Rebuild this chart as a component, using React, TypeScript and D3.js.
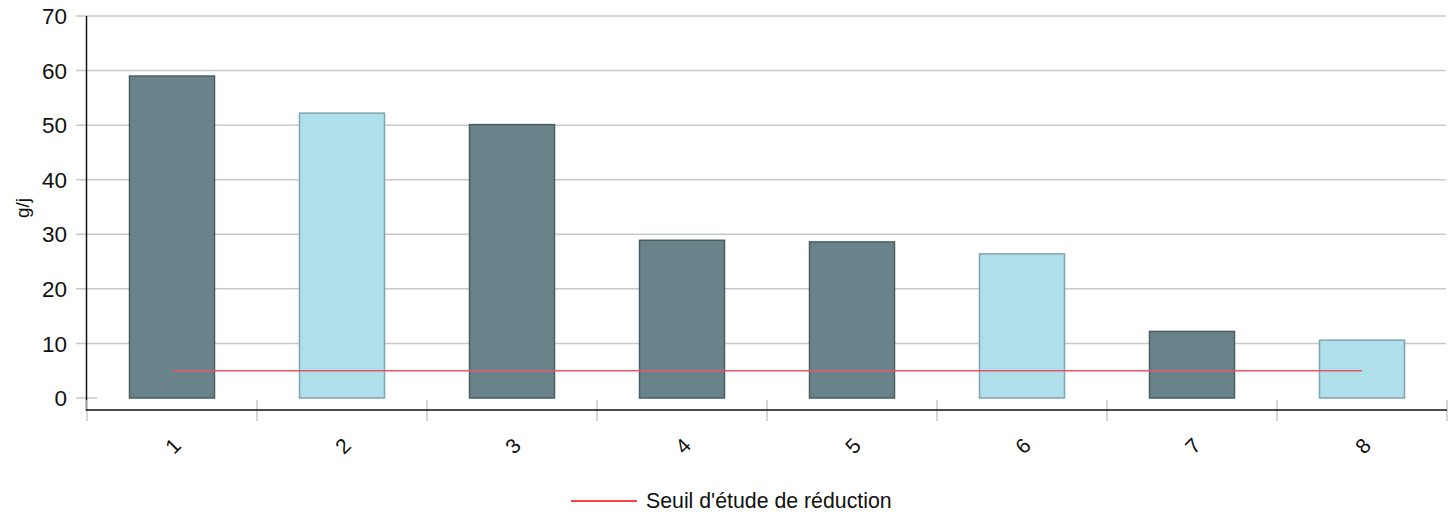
import React from "react";
import * as d3 from "d3";

const categories = ["1", "2", "3", "4", "5", "6", "7", "8"];
const values = [59, 52.2, 50.1, 28.9, 28.6, 26.4, 12.2, 10.6];
const highlight = [false, true, false, false, false, true, false, true];
const threshold = 5;
const yTicks = [0, 10, 20, 30, 40, 50, 60, 70];
const legendLabel = "Seuil d'étude de réduction";
const yLabel = "g/j";

export default function App() {
  const W = 1456, H = 515;
  const x0 = 87, x1 = 1447;
  const y = d3.scaleLinear().domain([0, 70]).range([398, 16]);
  const x = d3.scaleBand<string>().domain(categories).range([x0, x1]).paddingInner(0).paddingOuter(0);
  const bw = x.bandwidth();
  const barW = bw * 0.5;
  const font = "Liberation Sans, Arial, sans-serif";
  return (
    <svg width={W} height={H} style={{ position: "absolute", left: 0, top: 0 }} fontFamily={font}>
      {yTicks.map((t) =>
        <g key={t}>
          <line x1={76} x2={t === 0 ? 97 : 1446} y1={y(t)} y2={y(t)} stroke="#c8c8c8" strokeWidth={1.5} />
          <text x={67} y={y(t)} dy="0.36em" textAnchor="end" fontSize={22.5} fill="#111">{t}</text>
        </g>
      )}
      <line x1={x0 - 0.5} x2={x0 - 0.5} y1={16} y2={411} stroke="#111" strokeWidth={1.5} />
      {d3.range(categories.length + 1).map((i) => {
        const xx = x0 + i * bw;
        return <line key={i} x1={xx} x2={xx} y1={400} y2={421} stroke="#c8c8c8" strokeWidth={1.5} />;
      })}
      <line x1={x0 - 1} x2={x1} y1={410} y2={410} stroke="#111" strokeWidth={1.5} />
      {categories.map((c, i) => {
        const cx = (x(c) as number) + bw / 2;
        return (
          <rect key={c} x={cx - barW / 2} y={y(values[i])} width={barW} height={y(0) - y(values[i])}
            fill={highlight[i] ? "#b0dfec" : "#6a8289"} stroke={highlight[i] ? "#7fa3b0" : "#4a5d63"} strokeWidth={1.5} />
        );
      })}
      <line x1={(x(categories[0]) as number) + bw / 2} x2={(x(categories[categories.length - 1]) as number) + bw / 2}
        y1={y(threshold)} y2={y(threshold)} stroke="#e8546a" strokeWidth={1.5} />
      {categories.map((c) => {
        const cx = (x(c) as number) + bw / 2;
        return (
          <text key={c} transform={`translate(${cx + 1},${446}) rotate(-45)`} textAnchor="middle" dy="0.35em" fontSize={21} fill="#111">{c}</text>
        );
      })}
      <text transform={`translate(22,208) rotate(-90)`} textAnchor="middle" dy="0.35em" fontSize={19} fill="#111">{yLabel}</text>
      <line x1={571} x2={637} y1={501} y2={501} stroke="#ff0000" strokeWidth={1.5} />
      <text x={646} y={501} dy="0.35em" fontSize={21.3} fill="#111">{legendLabel}</text>
    </svg>
  );
}
